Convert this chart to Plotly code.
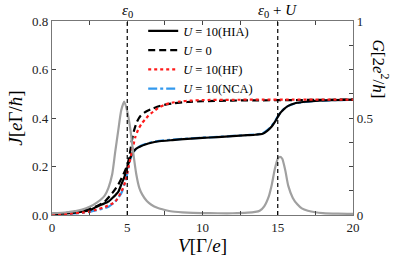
import plotly.graph_objects as go

# ---------------- data ----------------
eps0 = 5
U = 10

V_G = [0, 1, 2, 2.5, 3, 3.5, 3.75, 4, 4.2, 4.4, 4.6, 4.8, 5.0, 5.2, 5.4, 5.6, 5.8, 6.0, 6.3, 6.6, 7,
       7.5, 8, 9, 10, 11, 12, 13, 13.5, 13.8, 14.1, 14.4, 14.6, 14.8, 15.0, 15.15, 15.3, 15.5, 15.7,
       16, 16.3, 16.6, 17, 17.5, 18, 19, 20]
G_HIA = [0.008, 0.014, 0.028, 0.042, 0.065, 0.10, 0.14, 0.21, 0.325, 0.435, 0.54, 0.585, 0.535,
         0.445, 0.32, 0.21, 0.14, 0.105, 0.072, 0.053, 0.037, 0.026, 0.018, 0.012, 0.010, 0.009,
         0.009, 0.012, 0.016, 0.022, 0.045, 0.095, 0.155, 0.235, 0.29, 0.30, 0.29, 0.23, 0.15,
         0.088, 0.055, 0.034, 0.022, 0.014, 0.010, 0.007, 0.006]

V_HIA = [0, 1, 2, 2.5, 2.9, 3.3, 3.75, 4.1, 4.4, 4.6, 4.8, 5.0, 5.2, 5.4, 5.6, 5.9, 6.2, 6.6, 7.0,
         8, 9, 10, 11, 12, 13, 13.5, 14, 14.3, 14.6, 14.8, 15.0, 15.2, 15.45, 15.7, 16.1, 16.8,
         17.5, 18.5, 20]
J_HIA = [0.004, 0.007, 0.014, 0.02, 0.032, 0.043, 0.055, 0.075, 0.095, 0.125, 0.155, 0.195, 0.236,
         0.26, 0.274, 0.284, 0.291, 0.298, 0.303, 0.309, 0.314, 0.318, 0.321, 0.325, 0.329, 0.331,
         0.335, 0.347, 0.365, 0.383, 0.404, 0.423, 0.439, 0.45, 0.46, 0.467, 0.471, 0.474, 0.476]

V_U0 = [0, 1, 2, 2.5, 3, 3.5, 4, 4.4, 4.75, 5.0, 5.15, 5.3, 5.45, 5.65, 5.9, 6.2, 6.7, 7.3, 8, 9,
        10, 12, 14, 16, 18, 20]
J_U0 = [0.005, 0.009, 0.018, 0.025, 0.037, 0.055, 0.09, 0.125, 0.168, 0.205, 0.245, 0.305, 0.348,
        0.385, 0.41, 0.425, 0.439, 0.452, 0.46, 0.466, 0.469, 0.472, 0.473, 0.474, 0.475, 0.476]

V_HF = [0, 1, 2, 2.5, 2.9, 3.5, 4.2, 4.6, 4.87, 5.09, 5.31, 5.53, 5.75, 5.97, 6.2, 6.41, 6.85,
        7.07, 7.5, 7.96, 8.5, 9.28, 10, 12, 14, 16, 20]
J_HF = [0.003, 0.005, 0.01, 0.014, 0.021, 0.033, 0.055, 0.095, 0.137, 0.199, 0.26, 0.32, 0.355,
        0.378, 0.395, 0.41, 0.432, 0.442, 0.455, 0.463, 0.468, 0.472, 0.474, 0.475, 0.476, 0.476,
        0.476]

V_NCA = [0, 1, 2, 2.5, 3, 3.5, 3.76, 4.1, 4.4, 4.65, 4.85, 4.98, 5.1, 5.2, 5.4, 5.6, 5.9, 6.2,
         6.6, 7.0, 8, 9, 10, 11, 12, 13, 13.5, 14, 14.3, 14.6, 14.8, 15, 15.2, 15.45, 15.7, 16.1,
         16.8, 17.5, 18.5, 20]
J_NCA = [0.002, 0.004, 0.009, 0.013, 0.02, 0.028, 0.034, 0.05, 0.07, 0.096, 0.135, 0.165, 0.2,
         0.23, 0.258, 0.274, 0.286, 0.293, 0.3, 0.305, 0.311, 0.315, 0.319, 0.322, 0.326, 0.33,
         0.332, 0.337, 0.35, 0.368, 0.386, 0.406, 0.424, 0.44, 0.45, 0.459, 0.466, 0.47, 0.473,
         0.475]

x_ticks = [0, 5, 10, 15, 20]
yl_ticks = [0.0, 0.2, 0.4, 0.6, 0.8]
yr_ticks = [0, 0.5, 1]
yr_labels = ["0", "0.5", "1"]

# ---------------- figure ----------------
SERIF = "Liberation Serif"
SM = 0.6
fig = go.Figure()

fig.add_trace(go.Scatter(x=V_G, y=G_HIA, yaxis="y2", mode="lines", showlegend=False,
                         line=dict(color="#a0a0a0", width=2.2, shape="spline", smoothing=SM)))
fig.add_trace(go.Scatter(x=V_NCA, y=J_NCA, mode="lines", name="<i>U</i> = 10(NCA)", legendrank=4,
                         line=dict(color="#3399ee", width=2.2, dash="dashdot", shape="spline",
                                   smoothing=SM)))
fig.add_trace(go.Scatter(x=V_HIA, y=J_HIA, mode="lines", name="<i>U</i> = 10(HIA)", legendrank=1,
                         line=dict(color="black", width=2.2, shape="spline", smoothing=SM)))
fig.add_trace(go.Scatter(x=V_U0, y=J_U0, mode="lines", name="<i>U</i> = 0", legendrank=2,
                         line=dict(color="black", width=2.2, dash="7px,4px", shape="spline",
                                   smoothing=SM)))
fig.add_trace(go.Scatter(x=V_HF, y=J_HF, mode="lines", name="<i>U</i> = 10(HF)", legendrank=3,
                         line=dict(color="#ff1a1a", width=2.2, dash="dot", shape="spline",
                                   smoothing=SM)))

for xv in (eps0, eps0 + U):
    fig.add_vline(x=xv, line=dict(color="black", width=1.2, dash="4px,3px"))

fig.add_annotation(x=eps0, y=1.0, xref="x", yref="paper", yanchor="bottom", yshift=-1,
                   text="<i>ε</i><sub>0</sub>", showarrow=False,
                   font=dict(family=SERIF, size=15, color="black"))
fig.add_annotation(x=eps0 + U, y=1.0, xref="x", yref="paper", yanchor="bottom", yshift=-1,
                   text="<i>ε</i><sub>0</sub> + <i>U</i>", showarrow=False,
                   font=dict(family=SERIF, size=15, color="black"))
fig.add_annotation(x=1.0, y=0.755, xref="paper", yref="paper", xanchor="center", yanchor="middle",
                   xshift=28, text="<i>G</i>[2<i>e</i><sup>2</sup>/<i>h</i>]", textangle=90,
                   showarrow=False, font=dict(family=SERIF, size=17, color="black"))

axis_common = dict(showline=True, linecolor="#777", linewidth=1.2, ticks="inside", ticklen=4,
                   tickcolor="#444", showgrid=False, zeroline=False, automargin=False,
                   tickfont=dict(family=SERIF, size=13, color="#222"))

fig.update_layout(
    width=415, height=256,
    margin=dict(l=52, r=62, t=21, b=41),
    paper_bgcolor="white", plot_bgcolor="white",
    font=dict(family=SERIF, color="black"),
    xaxis=dict(range=[0, 20], tickvals=x_ticks, mirror="ticks",
               minor=dict(dtick=2.5, ticks="inside", ticklen=4, tickcolor="#444"),
               title=dict(text="<i>V</i>[Γ/<i>e</i>]", font=dict(family=SERIF, size=19), standoff=2),
               **axis_common),
    yaxis=dict(range=[0, 0.8], tickvals=yl_ticks, tickformat=".1f",
               title=dict(text="<i>J</i>[<i>e</i>Γ/<i>ħ</i>]", font=dict(family=SERIF, size=19),
                          standoff=4),
               **axis_common),
    yaxis2=dict(range=[0, 1], overlaying="y", side="right", tickvals=yr_ticks, ticktext=yr_labels,
                minor=dict(dtick=0.125, ticks="inside", ticklen=4, tickcolor="#444"),
                **axis_common),
    legend=dict(x=0.303, y=1.025, xanchor="left", yanchor="top", bgcolor="rgba(0,0,0,0)",
                font=dict(family=SERIF, size=12.5, color="black"), itemwidth=30,
                tracegroupgap=0),
)

fig.write_html("out.html", config={"displayModeBar": False},
               post_script="document.body.style.margin='0px';document.body.style.overflow='hidden';")
